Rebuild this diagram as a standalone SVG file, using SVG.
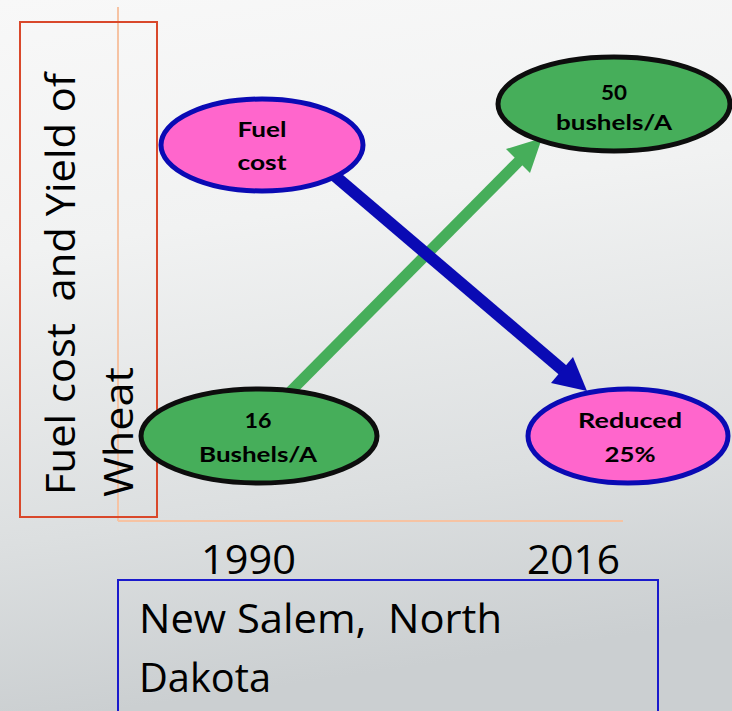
<svg xmlns="http://www.w3.org/2000/svg" width="732" height="711" viewBox="0 0 732 711">
<defs>
<linearGradient id="bg" x1="0" y1="0" x2="0.15" y2="1">
<stop offset="0" stop-color="#f8f8f8"/>
<stop offset="0.35" stop-color="#f1f2f2"/>
<stop offset="0.75" stop-color="#dcdfe0"/>
<stop offset="1" stop-color="#cbcfd1"/>
</linearGradient>
<style>
.lbl{font-family:Lato,"Open Sans","Liberation Sans",sans-serif;font-weight:bold;font-size:21px;fill:#000;text-anchor:middle}
.big{font-family:"Open Sans","Liberation Sans",sans-serif;font-size:40px;fill:#000;white-space:pre}
.pink{fill:#ff66cc;stroke:#0a0ab4;stroke-width:5}
.green{fill:#46ae5a;stroke:#0d0d0d;stroke-width:5}
</style>
</defs>
<rect width="732" height="711" fill="url(#bg)"/>
<g id="axes" fill="none" stroke="#f6c3a3" stroke-width="2">
<line x1="118" y1="7" x2="118" y2="521"/>
<line x1="118" y1="521" x2="623" y2="521"/>
</g>
<g id="y-label">
<rect x="20" y="22" width="137" height="495" fill="none" stroke="#d9482b" stroke-width="2"/>
<text class="big" font-size="42" xml:space="preserve" transform="translate(75,495) rotate(-90)" textLength="422" lengthAdjust="spacingAndGlyphs">Fuel cost  and Yield of</text>
<text class="big" font-size="42" transform="translate(133,497) rotate(-90)" textLength="130" lengthAdjust="spacingAndGlyphs">Wheat</text>
</g>
<g id="connectors">
<line x1="290" y1="392" x2="520" y2="160" stroke="#46ae5a" stroke-width="11"/>
<polygon points="542,138 506,149 530,173" fill="#46ae5a"/>
<line x1="335" y1="176" x2="565" y2="372" stroke="#0a0ab4" stroke-width="12"/>
<polygon points="587,391 551,383 573,357" fill="#0a0ab4"/>
</g>
<g id="fuel-cost">
<ellipse class="pink" cx="262" cy="145" rx="101" ry="46"/>
<text class="lbl" x="262" y="137" textLength="49" lengthAdjust="spacingAndGlyphs">Fuel</text>
<text class="lbl" x="262" y="170" textLength="49" lengthAdjust="spacingAndGlyphs">cost</text>
</g>
<g id="yield-1990">
<ellipse class="green" cx="259" cy="436" rx="118" ry="47"/>
<text class="lbl" x="258" y="428" textLength="27" lengthAdjust="spacingAndGlyphs">16</text>
<text class="lbl" x="258" y="462" textLength="118" lengthAdjust="spacingAndGlyphs">Bushels/A</text>
</g>
<g id="yield-2016">
<ellipse class="green" cx="614" cy="104" rx="116" ry="47"/>
<text class="lbl" x="614" y="100" textLength="26" lengthAdjust="spacingAndGlyphs">50</text>
<text class="lbl" x="614" y="130" textLength="116" lengthAdjust="spacingAndGlyphs">bushels/A</text>
</g>
<g id="reduced">
<ellipse class="pink" cx="628" cy="436" rx="100" ry="47"/>
<text class="lbl" x="630" y="428" textLength="104" lengthAdjust="spacingAndGlyphs">Reduced</text>
<text class="lbl" x="630" y="462" textLength="51" lengthAdjust="spacingAndGlyphs">25%</text>
</g>
<g id="years">
<text class="big" x="201" y="574" textLength="95" lengthAdjust="spacingAndGlyphs">1990</text>
<text class="big" x="527" y="574" textLength="93" lengthAdjust="spacingAndGlyphs">2016</text>
</g>
<g id="location">
<rect x="118" y="580" width="540" height="140" fill="none" stroke="#1a1acc" stroke-width="2"/>
<text class="big" xml:space="preserve" x="139" y="633" textLength="363" lengthAdjust="spacingAndGlyphs">New Salem,  North</text>
<text class="big" x="139" y="692" textLength="132" lengthAdjust="spacingAndGlyphs">Dakota</text>
</g>
</svg>
